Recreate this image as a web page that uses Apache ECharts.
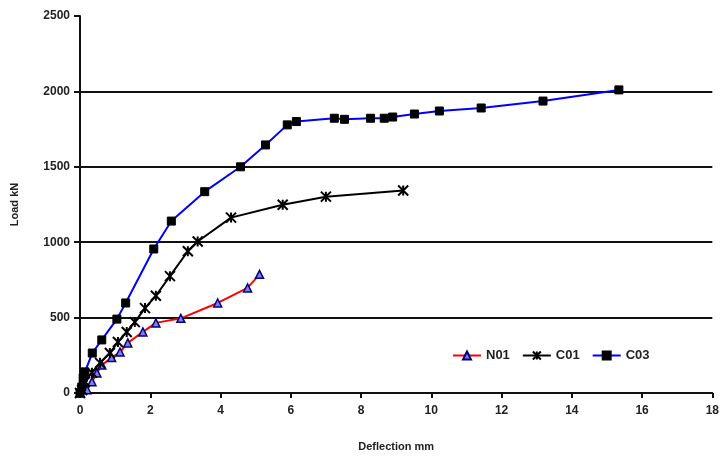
<!DOCTYPE html>
<html>
<head>
<meta charset="utf-8">
<script src="https://cdn.jsdelivr.net/npm/echarts@6/dist/echarts.min.js"></script>
<style>html,body{margin:0;padding:0;background:#fff}#c{width:722px;height:463px}</style>
</head>
<body>
<div id="c"></div>
<script>
const seriesNames = ['N01', 'C01', 'C03'];
const n01X = [0, 0.2, 0.34, 0.48, 0.62, 0.9, 1.14, 1.36, 1.79, 2.16, 2.87, 3.92, 4.77, 5.11];
const n01Y = [0, 22, 75, 133, 185, 235, 272, 332, 405, 465, 495, 597, 697, 787];
const c01X = [0, 0.06, 0.14, 0.34, 0.57, 0.85, 1.08, 1.33, 1.56, 1.85, 2.16, 2.56, 3.07, 3.35, 4.3, 5.77, 7.0, 9.2];
const c01Y = [0, 20, 75, 135, 200, 265, 338, 405, 470, 563, 645, 775, 940, 1005, 1163, 1248, 1302, 1343];
const c03X = [0, 0.05, 0.09, 0.14, 0.35, 0.62, 1.05, 1.3, 2.1, 2.6, 3.55, 4.57, 5.28, 5.9, 6.16, 7.24, 7.53, 8.27, 8.66, 8.9, 9.52, 10.23, 11.42, 13.18, 15.34];
const c03Y = [0, 40, 100, 140, 265, 352, 490, 597, 955, 1140, 1335, 1500, 1645, 1778, 1800, 1822, 1815, 1822, 1822, 1830, 1850, 1870, 1890, 1936, 2010];
const xTicks = { min: 0, max: 18, interval: 2 };
const yTicks = { min: 0, max: 2500, interval: 500 };

const zip = (xs, ys) => xs.map((x, i) => [x, ys[i]]);
const font = 'Liberation Sans, Arial, sans-serif';
const chart = echarts.init(document.getElementById('c'));
chart.setOption({
  animation: false,
  backgroundColor: '#fff',
  grid: { left: 80, right: 8, top: 16, bottom: 70 },
  legend: {
    left: 447, top: 344,
    itemWidth: 28, itemHeight: 10, itemGap: 12,
    textStyle: { fontFamily: font, fontSize: 13, fontWeight: 'bold', color: '#222' },
    data: seriesNames
  },
  xAxis: {
    type: 'value', min: xTicks.min, max: xTicks.max, interval: xTicks.interval,
    name: 'Deflection mm', nameLocation: 'middle', nameGap: 48,
    nameTextStyle: { fontFamily: font, fontSize: 11, fontWeight: 'bold', color: '#222' },
    axisLine: { show: true, onZero: false, lineStyle: { color: '#111', width: 2 } },
    axisTick: { show: true, length: 5, lineStyle: { color: '#111', width: 2 } },
    axisLabel: { fontFamily: font, fontSize: 12, fontWeight: 'bold', color: '#222', margin: 12, formatter: v => String(v) },
    splitLine: { show: false }
  },
  yAxis: {
    type: 'value', min: yTicks.min, max: yTicks.max, interval: yTicks.interval,
    name: 'Load kN', nameLocation: 'middle', nameGap: 60,
    nameTextStyle: { fontFamily: font, fontSize: 11, fontWeight: 'bold', color: '#222' },
    axisLine: { show: true, onZero: false, lineStyle: { color: '#111', width: 2 } },
    axisTick: { show: true, inside: false, length: 6, lineStyle: { color: '#111', width: 2 } },
    axisLabel: { fontFamily: font, fontSize: 12, fontWeight: 'bold', color: '#222', margin: 10, formatter: v => String(v) },
    splitLine: { show: true, showMinLine: false, showMaxLine: false, lineStyle: { color: '#111', width: 2 } }
  },
  series: [
    {
      name: seriesNames[0], type: 'line', data: zip(n01X, n01Y),
      symbol: 'triangle', symbolSize: 8,
      lineStyle: { color: '#ff0000', width: 2 },
      itemStyle: { color: '#8080e0', borderColor: '#000080', borderWidth: 1.5 }
    },
    {
      name: seriesNames[1], type: 'line', data: zip(c01X, c01Y),
      symbol: 'path://M0,0L10,10M10,0L0,10M5,0L5,10M0,0L0,0.01', symbolSize: 10,
      lineStyle: { color: '#000', width: 2 },
      itemStyle: { color: '#000', borderColor: '#000', borderWidth: 2 }
    },
    {
      name: seriesNames[2], type: 'line', data: zip(c03X, c03Y),
      symbol: 'rect', symbolSize: 8,
      lineStyle: { color: '#0000ff', width: 2 },
      itemStyle: { color: '#000', borderColor: '#000', borderWidth: 1 }
    }
  ]
});
</script>
</body>
</html>
